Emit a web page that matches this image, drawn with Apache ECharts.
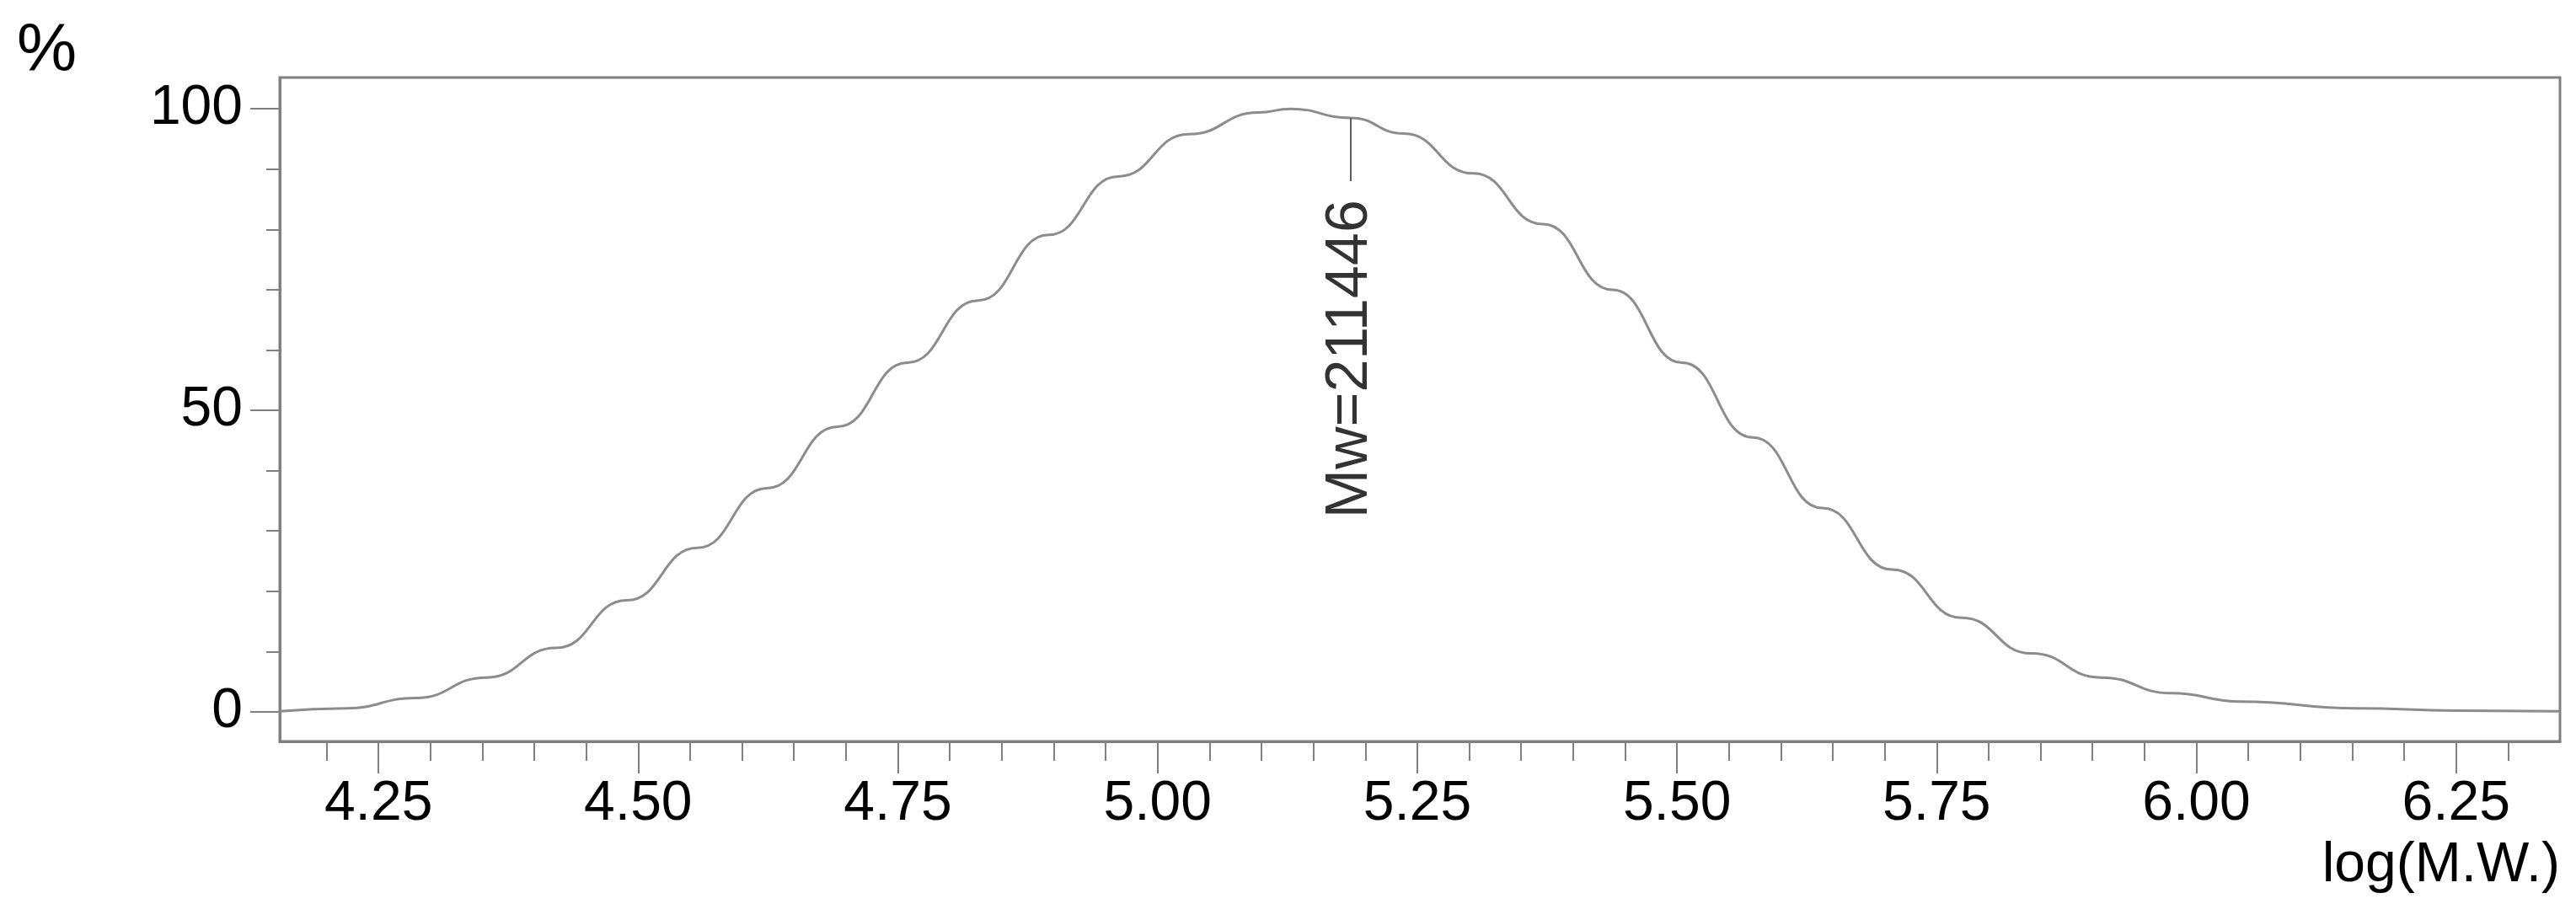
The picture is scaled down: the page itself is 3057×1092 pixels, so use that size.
<!DOCTYPE html>
<html>
<head>
<meta charset="utf-8">
<script src="https://cdn.jsdelivr.net/npm/echarts@6/dist/echarts.min.js"></script>
<style>html,body{margin:0;padding:0;background:#fff}#chartmain{width:3057px;height:1092px}</style>
</head>
<body>
<div id="chartmain"></div>
<script>
var data_x = [4.155, 4.219, 4.286, 4.354, 4.421, 4.489, 4.557, 4.624, 4.692, 4.759, 4.827, 4.895, 4.962, 5.03, 5.097, 5.128,
              5.186, 5.237, 5.304, 5.371, 5.438, 5.505, 5.573, 5.64, 5.707, 5.774, 5.841, 5.908, 5.976, 6.043, 6.155, 6.25, 6.35],
data_y = [0.1, 0.6, 2.3, 5.7, 10.6, 18.5, 27.2, 37.1, 47.3, 57.9, 68.2, 79.1, 88.8, 95.8, 99.4, 100,
          98.5, 95.9, 89.3, 80.9, 70, 57.9, 45.5, 33.8, 23.6, 15.6, 9.7, 5.7, 3.1, 1.7, 0.6, 0.2, 0.1],
x_major = [4.25, 4.5, 4.75, 5.0, 5.25, 5.5, 5.75, 6.0, 6.25],
x_minor = [4.2, 4.3, 4.35, 4.4, 4.45, 4.55, 4.6, 4.65, 4.7, 4.8, 4.85, 4.9, 4.95, 5.05, 5.1, 5.15, 5.2,
           5.3, 5.35, 5.4, 5.45, 5.55, 5.6, 5.65, 5.7, 5.8, 5.85, 5.9, 5.95, 6.05, 6.1, 6.15, 6.2, 6.3],
y_major = [0, 50, 100],
y_minor = [10, 20, 30, 40, 60, 70, 80, 90],
mw_x = 5.186, mw_top = 98.5, mw_bottom = 88, mw_text_y = 58.5,
mw_label = 'Mw=211446';

var axisColor = '#808080', font = 'Liberation Sans, Arial, sans-serif';

var points = data_x.map(function (x, i) { return [x, data_y[i]]; });

function xAxisDef(ticks, len, labels) {
    return {
        type: 'value', min: 4.155, max: 6.35, position: 'bottom',
        splitLine: { show: false },
        axisLine: { show: labels, onZero: false, lineStyle: { color: axisColor, width: 3 } },
        axisTick: { show: true, customValues: ticks, length: len, lineStyle: { color: axisColor, width: 2 } },
        axisLabel: labels ? {
            customValues: ticks, margin: 42, color: '#000', fontSize: 66, fontFamily: font,
            formatter: function (v) { return v.toFixed(2); }
        } : { show: false }
    };
}

function yAxisDef(ticks, len, labels) {
    return {
        type: 'value', min: -4.9, max: 105.2, position: 'left',
        splitLine: { show: false },
        axisLine: { show: labels, onZero: false, lineStyle: { color: axisColor, width: 3 } },
        axisTick: { show: true, customValues: ticks, length: len, lineStyle: { color: axisColor, width: 2 } },
        axisLabel: labels ? {
            customValues: ticks, margin: 44, color: '#000', fontSize: 66, fontFamily: font
        } : { show: false }
    };
}

var option = {
    animation: false,
    grid: { left: 332, right: 19, top: 92, bottom: 212, show: true, borderColor: axisColor, borderWidth: 3 },
    xAxis: [xAxisDef(x_major, 38, true), xAxisDef(x_minor, 23, false)],
    yAxis: [yAxisDef(y_major, 35, true), yAxisDef(y_minor, 16, false)],
    graphic: [
        { type: 'text', left: 20, top: 22, style: { text: '%', fontSize: 80, fontFamily: font, fill: '#000' } },
        { type: 'text', right: 19, top: 995, style: { text: 'log(M.W.)', fontSize: 66, fontFamily: font, fill: '#000' } }
    ],
    series: [{
        type: 'line', data: points, smooth: 0.5, smoothMonotone: 'x', symbol: 'none',
        lineStyle: { color: '#8c8c8c', width: 3 },
        markLine: {
            silent: true, symbol: 'none', label: { show: false },
            lineStyle: { color: '#606060', width: 2, type: 'solid' },
            data: [[{ coord: [mw_x, mw_top] }, { coord: [mw_x, mw_bottom] }]]
        }
    }, {
        type: 'scatter', symbolSize: 0, silent: true,
        data: [[mw_x, mw_text_y]],
        label: {
            show: true, position: 'inside', rotate: 90, formatter: mw_label,
            color: '#000', fontSize: 70, fontFamily: font
        }
    }]
};

var myChart = echarts.init(document.getElementById('chartmain'));
myChart.setOption(option);
</script>
</body>
</html>
